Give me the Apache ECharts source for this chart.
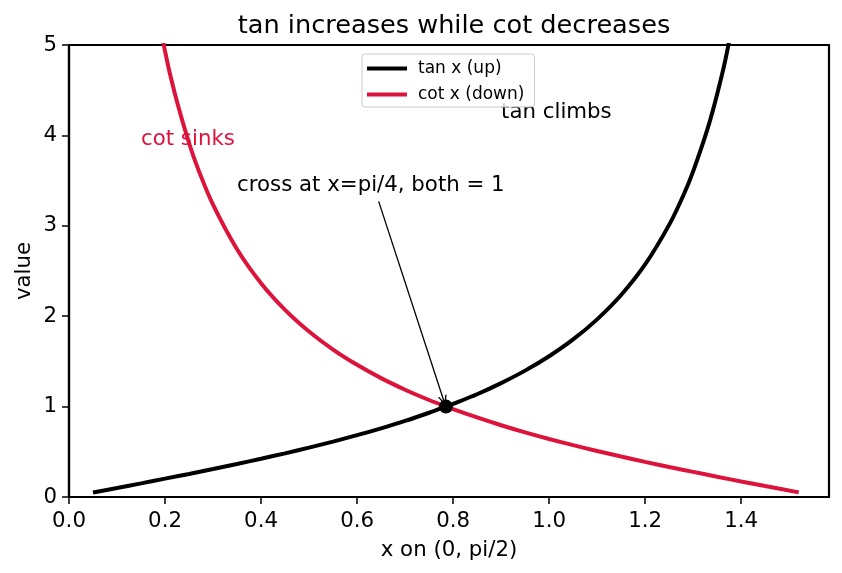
<!DOCTYPE html>
<html>
<head>
<meta charset="utf-8">
<script src="https://cdn.jsdelivr.net/npm/echarts@6/dist/echarts.min.js"></script>
<style>
  html, body { margin: 0; padding: 0; background: #fff; }
  #chart { width: 842px; height: 573px; }
</style>
</head>
<body>
<div id="chart"></div>
<script>
const FONT = "DejaVu Sans";

// tan x (rises out of the top near x = 1.37)
const tanX = [0.05, 0.10, 0.15, 0.20, 0.25, 0.30, 0.35, 0.40, 0.45, 0.50, 0.55, 0.60,
  0.65, 0.70, 0.75, 0.785, 0.80, 0.85, 0.90, 0.95, 1.00, 1.05, 1.10, 1.15, 1.20,
  1.25, 1.28, 1.30, 1.33, 1.35, 1.37, 1.40];
const tanY = [0.050, 0.100, 0.151, 0.203, 0.255, 0.309, 0.365, 0.423, 0.483, 0.546, 0.613, 0.684,
  0.760, 0.842, 0.932, 1.000, 1.030, 1.137, 1.260, 1.398, 1.557, 1.743, 1.965, 2.234, 2.572,
  3.010, 3.341, 3.602, 4.072, 4.455, 4.907, 5.798];

// cot x, comes down from above the top near x = 0.2
const cotX = [0.15, 0.17, 0.20, 0.22, 0.25, 0.27, 0.30, 0.35, 0.40, 0.45, 0.50, 0.55, 0.60,
  0.65, 0.70, 0.75, 0.785, 0.80, 0.85, 0.90, 0.95, 1.00, 1.05, 1.10, 1.15, 1.20,
  1.25, 1.30, 1.35, 1.40, 1.45, 1.52];
const cotY = [6.617, 5.820, 4.933, 4.472, 3.916, 3.613, 3.233, 2.740, 2.365, 2.070, 1.830, 1.631, 1.462,
  1.315, 1.187, 1.073, 1.000, 0.971, 0.880, 0.794, 0.715, 0.642, 0.574, 0.509, 0.448, 0.389,
  0.332, 0.278, 0.224, 0.172, 0.121, 0.051];

const xTicks = [0, 0.2, 0.4, 0.6, 0.8, 1.0, 1.2, 1.4];
const yTicks = [0, 1, 2, 3, 4, 5];

const crossPoint = [0.785, 1.0];
const arrowFrom = [0.645, 3.27];
const arrowTo = [0.781, 1.06];

const notes = [
  { text: "cot sinks", at: [0.15, 3.9], color: "#DC143C" },
  { text: "tan climbs", at: [0.9, 4.2], color: "#000" },
  { text: "cross at x=pi/4, both = 1", at: [0.35, 3.4], color: "#000" }
];

const zip = (xs, ys) => xs.map((x, i) => [x, ys[i]]);

const chart = echarts.init(document.getElementById("chart"), null, { renderer: "canvas" });

const noteSeries = notes.map(n => ({
  type: "scatter",
  data: [n.at],
  symbolSize: 0,
  silent: true,
  z: 3,
  itemStyle: { opacity: 1 },
  label: {
    show: true,
    position: [0, 0],
    align: "left",
    verticalAlign: "bottom",
    offset: [0, 6],
    formatter: n.text,
    color: n.color,
    fontFamily: FONT,
    fontSize: 21.3
  }
}));

chart.setOption({
  animation: false,
  backgroundColor: "#fff",
  textStyle: { fontFamily: FONT },
  title: {
    text: "tan increases while cot decreases",
    left: 449,
    top: 8,
    textAlign: "center",
    textStyle: { fontFamily: FONT, fontSize: 25.6, fontWeight: "normal", color: "#000" }
  },
  grid: {
    left: 69, right: 13, top: 45, bottom: 76,
    show: true, borderColor: "#000", borderWidth: 2.2, backgroundColor: "transparent"
  },
  legend: {
    data: ["tan x (up)", "cot x (down)"],
    orient: "vertical",
    left: 362,
    top: 54,
    padding: [6, 10, 4, 5],
    itemGap: 9,
    itemWidth: 40,
    itemHeight: 4,
    icon: "rect",
    backgroundColor: "rgba(255,255,255,0.8)",
    borderColor: "#cccccc",
    borderWidth: 1,
    borderRadius: 3,
    z: 10,
    textStyle: { fontFamily: FONT, fontSize: 17, lineHeight: 17, color: "#000", padding: [0, 0, 0, 6] }
  },
  xAxis: {
    type: "value",
    min: 0,
    max: 1.583,
    interval: 0.2,
    name: "x on (0, pi/2)",
    nameLocation: "middle",
    nameGap: 43,
    nameTextStyle: { fontFamily: FONT, fontSize: 21.3, color: "#000" },
    splitLine: { show: false },
    axisLine: { show: true, lineStyle: { color: "#000", width: 2.2 } },
    axisTick: { show: true, length: 7, lineStyle: { color: "#000", width: 1.5 }, customValues: xTicks },
    axisLabel: {
      color: "#000", fontFamily: FONT, fontSize: 21.3, margin: 14,
      customValues: xTicks,
      formatter: v => v.toFixed(1)
    }
  },
  yAxis: {
    type: "value",
    min: 0,
    max: 5,
    interval: 1,
    name: "value",
    nameLocation: "middle",
    nameGap: 34,
    nameMoveOverlap: false,
    nameTextStyle: { fontFamily: FONT, fontSize: 21.3, color: "#000" },
    splitLine: { show: false },
    axisLine: { show: true, lineStyle: { color: "#000", width: 2.2 } },
    axisTick: { show: true, length: 7, lineStyle: { color: "#000", width: 1.5 }, customValues: yTicks },
    axisLabel: { color: "#000", fontFamily: FONT, fontSize: 21.3, margin: 12, customValues: yTicks }
  },
  series: [
    {
      name: "tan x (up)",
      type: "line",
      data: zip(tanX, tanY),
      showSymbol: false,
      symbol: "none",
      smooth: 0.3,
      clip: true,
      color: "#000",
      lineStyle: { color: "#000", width: 4 },
      z: 4
    },
    {
      name: "cot x (down)",
      type: "line",
      data: zip(cotX, cotY),
      showSymbol: false,
      symbol: "none",
      smooth: 0.3,
      clip: true,
      color: "#DC143C",
      lineStyle: { color: "#DC143C", width: 4 },
      z: 2
    },
    {
      type: "scatter",
      data: [crossPoint],
      symbolSize: 14,
      itemStyle: { color: "#000", opacity: 1 },
      silent: true,
      z: 6,
      markLine: {
        silent: true,
        symbol: ["none", "path://M0,10 L5,0 L10,10 L8.4,10 L5,3.2 L1.6,10 Z"],
        symbolSize: [9, 11],
        label: { show: false },
        lineStyle: { color: "#000", width: 1.3, type: "solid" },
        data: [[{ coord: arrowFrom }, { coord: arrowTo }]]
      }
    },
    ...noteSeries
  ]
});
</script>
</body>
</html>
